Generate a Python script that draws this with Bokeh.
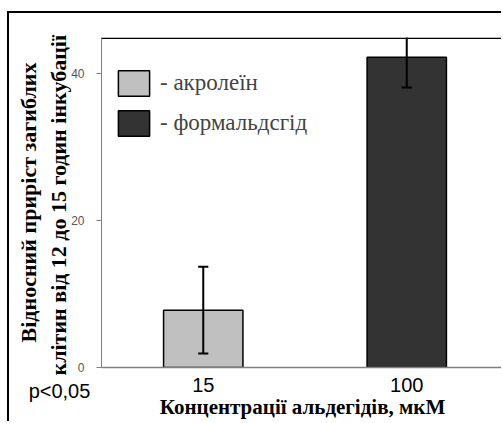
from bokeh.plotting import figure
from bokeh.models import (Range1d, FixedTicker, Label, Legend, LegendItem,
                          Span, ColumnDataSource)
from bokeh.embed import file_html
from bokeh.resources import INLINE

# ---- data ----
categories = ["15", "100"]                 # концентрації, мкМ
series_names = ["акролеїн", "формальдсгід"]
values = [7.8, 42.2]
errors = [5.9, 4.1]
colors = ["#c0c0c0", "#333333"]
y_ticks = [0, 20, 40]

CAP = 0.025  # half width of error-bar caps, in x units (style)
xs = [i + 1 for i in range(len(categories))]
lower = [v - e for v, e in zip(values, errors)]
upper = [v + e for v, e in zip(values, errors)]
src = ColumnDataSource(dict(x=xs, top=values, color=colors,
                            lower=lower, upper=upper,
                            xl=[x - CAP for x in xs], xr=[x + CAP for x in xs]))

Y_MAX = 44.9

p = figure(width=494, height=410,
           x_range=Range1d(0.5, 0.5 + 402 / 203.5),
           y_range=Range1d(0, Y_MAX),
           min_border_left=92, min_border_right=0,
           min_border_top=24, min_border_bottom=56,
           toolbar_location=None, output_backend="svg")
# outer frame of the picture (left and top rules)
p.styles = {"border-left": "2px solid black", "border-top": "2px solid black",
            "margin-left": "7px", "margin-top": "11px"}
p.outline_line_color = None
p.xgrid.visible = False
p.ygrid.visible = False

# x axis
p.xaxis.ticker = FixedTicker(ticks=xs)
p.xaxis.major_label_overrides = {x: c for x, c in zip(xs, categories)}
p.xaxis.major_tick_line_color = None
p.xaxis.major_tick_out = 0
p.xaxis.major_tick_in = 0
p.xaxis.minor_tick_line_color = None
p.xaxis.axis_line_color = "#808080"
p.xaxis.axis_line_width = 1.5
p.xaxis.major_label_text_font = "Liberation Sans"
p.xaxis.major_label_text_font_size = "20px"
p.xaxis.major_label_text_color = "black"
p.xaxis.major_label_standoff = 10
p.xaxis.axis_label = "Концентрації альдегідів, мкМ"
p.xaxis.axis_label_text_font = "Liberation Serif"
p.xaxis.axis_label_text_font_style = "bold"
p.xaxis.axis_label_text_font_size = "21px"
p.xaxis.axis_label_text_color = "black"
p.xaxis.axis_label_standoff = 0

# y axis
p.yaxis.ticker = FixedTicker(ticks=y_ticks)
p.yaxis.major_tick_out = 5
p.yaxis.major_tick_in = 0
p.yaxis.minor_tick_line_color = None
p.yaxis.axis_line_color = "#808080"
p.yaxis.major_tick_line_color = "#808080"
p.yaxis.major_label_text_font = "Liberation Sans"
p.yaxis.major_label_text_font_size = "12px"
p.yaxis.major_label_text_color = "#555555"
p.yaxis.major_label_standoff = 12
p.yaxis.axis_label = "Відносний приріст загиблих\nклітин від  12 до 15 годин інкубації"
p.yaxis.axis_label_text_font = "Liberation Serif"
p.yaxis.axis_label_text_font_style = "bold"
p.yaxis.axis_label_text_font_size = "22px"
p.yaxis.axis_label_text_color = "black"
p.yaxis.axis_label_standoff = -3

# top rule of the plot area
p.add_layout(Span(location=Y_MAX - 0.1, dimension="width",
                  line_color="black", line_width=1.5))

# bars
r = p.vbar(x="x", top="top", width=0.39, source=src, fill_color="color",
           line_color="black", line_width=1.5)

# error bars with caps
p.segment(x0="x", y0="lower", x1="x", y1="upper", source=src,
          line_color="black", line_width=2)
p.segment(x0="xl", y0="lower", x1="xr", y1="lower", source=src,
          line_color="black", line_width=2)
p.segment(x0="xl", y0="upper", x1="xr", y1="upper", source=src,
          line_color="black", line_width=2)

# legend
legend = Legend(items=[LegendItem(label="- " + n, renderers=[r], index=i)
                       for i, n in enumerate(series_names)],
                location=(13, 228), glyph_width=39, glyph_height=32,
                label_standoff=7, spacing=8, padding=0, margin=0,
                border_line_color=None, background_fill_alpha=0,
                label_text_font="Liberation Serif",
                label_text_font_size="23px")
p.add_layout(legend, "center")

# significance note (placed in the top side panel so it is not clipped)
p.add_layout(Label(x=-42, y=-353, x_units="screen", y_units="screen",
                   text_align="center", text_baseline="middle",
                   text="p<0,05", text_font="Liberation Sans",
                   text_font_size="20px", text_color="black"), "above")

open("out.html", "w").write(file_html(p, INLINE))
